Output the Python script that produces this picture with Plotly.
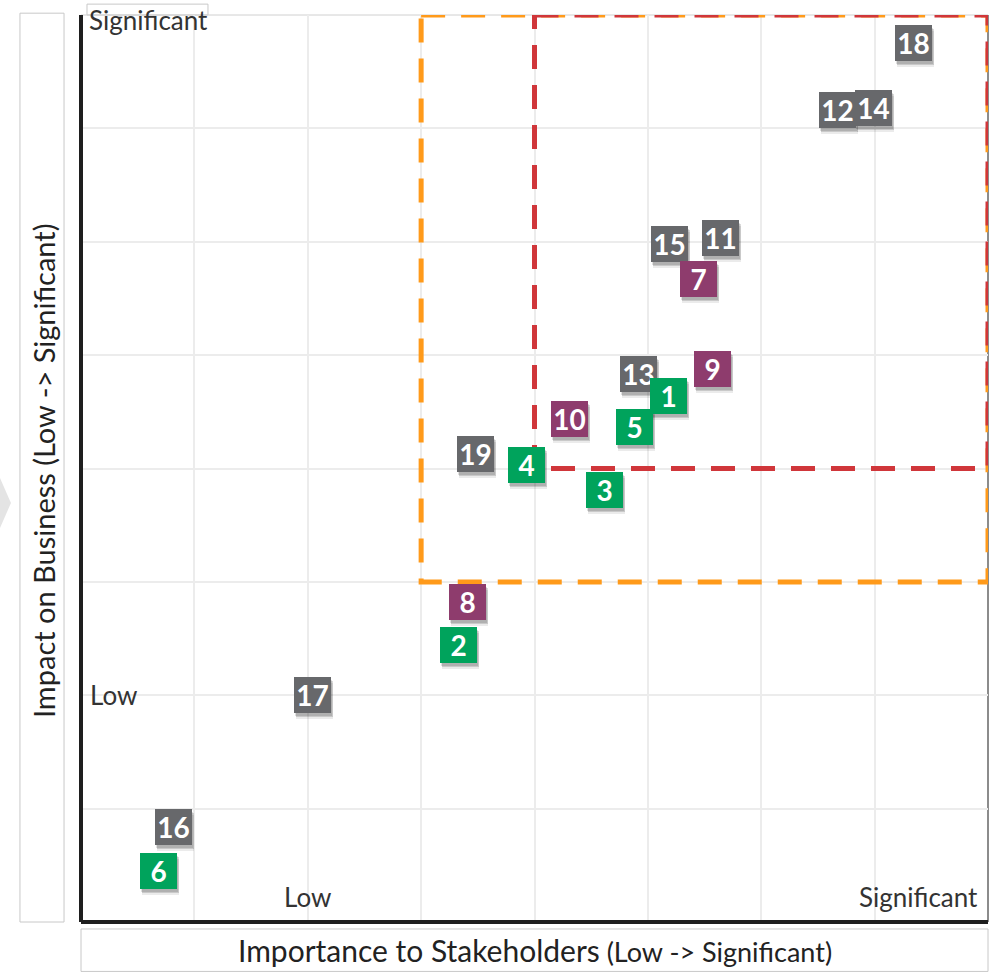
import plotly.graph_objects as go

# Materiality matrix: each issue positioned by stakeholder importance (x)
# and business impact (y), both on a 0-8 scale.
issue_ids = ["18", "12", "14", "15", "11", "7", "9", "13", "1", "10", "5",
             "19", "4", "3", "8", "2", "17", "16", "6"]
stakeholder_importance = [7.34, 6.67, 6.99, 5.19, 5.64, 5.45, 5.57, 4.92, 5.18,
                          4.31, 4.88, 3.48, 3.93, 4.62, 3.41, 3.33, 2.04, 0.82, 0.68]
business_impact = [7.75, 7.16, 7.18, 5.98, 6.03, 5.67, 4.88, 4.83, 4.64,
                   4.44, 4.37, 4.13, 4.03, 3.81, 2.82, 2.44, 2.00, 0.84, 0.45]
issue_group = ["grey", "grey", "grey", "grey", "grey", "purple", "purple", "grey", "green",
               "purple", "green", "grey", "green", "green", "purple", "green", "grey", "grey", "green"]

group_colors = {"grey": "#67686b", "green": "#00a35c", "purple": "#8e3c6d"}

axis_range = [0, 8]
# dashed priority frames: (x_min, x_max, y_min, y_max)
priority_zone = (3, 8, 3, 8)
top_zone = (4, 8, 4, 8)

FONT = "Lato, 'Open Sans', sans-serif"

fig = go.Figure()


def frame_trace(zone, color):
    x0, x1, y0, y1 = zone
    return go.Scatter(x=[x0, x1, x1, x0, x0], y=[y1, y1, y0, y0, y1], mode="lines",
                      line=dict(color=color, width=5, dash="24px,16px"),
                      hoverinfo="skip", showlegend=False)


fig.add_trace(frame_trace(priority_zone, "#ff9a1a"))
fig.add_trace(frame_trace(top_zone, "#d0363a"))

annotations = []
# soft drop shadows under each label box
for xv, yv in zip(stakeholder_importance, business_impact):
    for dx, dy, a in [(2, -6, 0.08), (2, -4, 0.14), (1, -3, 0.12)]:
        annotations.append(dict(x=xv, y=yv, xref="x", yref="y", text="", showarrow=False,
                                width=37, height=36, bgcolor=f"rgba(0,0,0,{a})",
                                borderwidth=0, borderpad=0, xshift=dx, yshift=dy))
# numbered label boxes
for lab, xv, yv, g in zip(issue_ids, stakeholder_importance, business_impact, issue_group):
    annotations.append(dict(x=xv, y=yv, xref="x", yref="y", text=lab, showarrow=False,
                            width=37, height=36, bgcolor=group_colors[g],
                            borderwidth=0, borderpad=0,
                            font=dict(family=FONT, size=28, color="white", weight="bold")))

label_font = dict(family=FONT, size=26, color="#333333")
annotations += [
    dict(x=0.0066, y=0.9945, xref="paper", yref="paper", text="Significant", showarrow=False,
         xanchor="left", yanchor="middle", font=label_font),
    dict(x=0.06, y=2.0, xref="x", yref="y", text="Low", showarrow=False,
         xanchor="left", yanchor="middle", font=label_font),
    dict(x=2.0, y=0.22, xref="x", yref="y", text="Low", showarrow=False,
         xanchor="center", yanchor="middle", font=label_font),
    dict(x=7.93, y=0.22, xref="x", yref="y", text="Significant", showarrow=False,
         xanchor="right", yanchor="middle", font=label_font),
    dict(x=0.5, y=-0.031, xref="paper", yref="paper", showarrow=False,
         text="<span style='font-size:30px'>Importance to Stakeholders</span>"
              "<span style='font-size:27px'> (Low -&gt; Significant)</span>",
         xanchor="center", yanchor="middle", font=dict(family=FONT, size=30, color="#222222")),
    dict(x=-0.0419, y=0.4983, xref="paper", yref="paper", showarrow=False, textangle=-90,
         text="Impact on Business (Low -&gt; Significant)",
         xanchor="center", yanchor="middle", font=dict(family=FONT, size=29, color="#222222")),
]

shapes = [
    # title frames
    dict(type="rect", xref="paper", yref="paper", x0=0, x1=1, y0=-0.0077, y1=-0.0545,
         line=dict(color="#c8c8c8", width=1), layer="below"),
    dict(type="rect", xref="paper", yref="paper", x0=-0.0673, x1=-0.0187, y0=0, y1=1.002,
         line=dict(color="#c8c8c8", width=1), layer="below"),
    dict(type="rect", xref="paper", yref="paper", x0=0.0066, x1=0.14, y0=1.0, y1=1.012,
         line=dict(color="#c8c8c8", width=1), layer="below"),
    # side chevron
    dict(type="path", xref="paper", yref="paper",
         path="M -0.0893 0.4895 L -0.0772 0.462 L -0.0893 0.4344 Z",
         fillcolor="#e4e4e4", line=dict(width=0)),
    # plot frame: light top, dark right edge
    dict(type="line", xref="paper", yref="paper", x0=0, x1=1, y0=1, y1=1,
         line=dict(color="#d0d0d0", width=1), layer="below"),
    dict(type="line", xref="paper", yref="paper", x0=1, x1=1, y0=0, y1=1,
         line=dict(color="#666666", width=1.5), layer="below"),
    # axes
    dict(type="line", xref="paper", yref="paper", x0=0, x1=0, y0=0, y1=1,
         line=dict(color="#1e1e1e", width=4)),
    dict(type="line", xref="paper", yref="paper", x0=0, x1=1, y0=0, y1=0,
         line=dict(color="#1e1e1e", width=4)),
]

fig.update_layout(
    width=999, height=973,
    margin=dict(l=81, r=11, t=15, b=51),
    paper_bgcolor="white", plot_bgcolor="white",
    showlegend=False,
    annotations=annotations,
    shapes=shapes,
    xaxis=dict(range=axis_range, dtick=1, showgrid=True, gridcolor="#ececec", gridwidth=2,
               zeroline=False, showticklabels=False, ticks="", fixedrange=True),
    yaxis=dict(range=axis_range, dtick=1, showgrid=True, gridcolor="#ececec", gridwidth=2,
               zeroline=False, showticklabels=False, ticks="", fixedrange=True),
)

fig.write_html("out.html")
